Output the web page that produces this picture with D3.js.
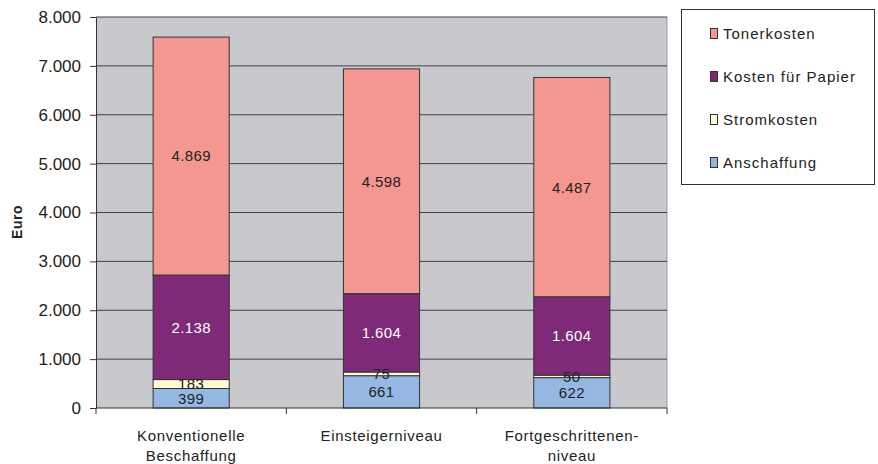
<!DOCTYPE html>
<html><head><meta charset="utf-8">
<script src="https://cdn.jsdelivr.net/npm/d3@7"></script>
<style>body{margin:0;background:#fff;} svg{display:block;font-family:"Liberation Sans",Arial,sans-serif;}</style>
</head><body>
<svg id="c" width="878" height="464"></svg>
<script>
const categories = [["Konventionelle","Beschaffung"],["Einsteigerniveau"],["Fortgeschrittenen-","niveau"]];
const seriesNames = ["Anschaffung","Stromkosten","Kosten für Papier","Tonerkosten"];
const anschaffung = [399, 661, 622];
const stromkosten = [183, 75, 50];
const papier = [2138, 1604, 1604];
const toner = [4869, 4598, 4487];
const yTicks = [0,1000,2000,3000,4000,5000,6000,7000,8000];
const colors = ["#95b8e2","#fffbd2","#7e2a78","#f49790"];
const labelColors = ["#222","#222","#fff","#222"];

const svg = d3.select("#c");
const L=96, R=667, T=17, B=408;
const x = d3.scaleBand().domain(d3.range(3)).range([L,R]).paddingInner(0.6).paddingOuter(0.3);
const y = d3.scaleLinear().domain([0,8000]).range([B,T]);
const fmt = v => d3.format(",")(v).replace(/,/g,".");

svg.append("rect").attr("x",L).attr("y",T).attr("width",R-L).attr("height",B-T).attr("fill","#c8c9cd");
svg.append("line").attr("x1",R).attr("x2",R).attr("y1",T).attr("y2",B).attr("stroke","#9a9a9a");
svg.append("g").selectAll("line").data(yTicks.slice(1)).join("line")
  .attr("x1",L).attr("x2",R).attr("y1",d=>y(d)).attr("y2",d=>y(d)).attr("stroke","#404040").attr("stroke-width",1);

const data = [anschaffung, stromkosten, papier, toner];
const rows = d3.range(3).map(i=>{const o={i}; seriesNames.forEach((s,k)=>o[s]=data[k][i]); return o;});
const stack = d3.stack().keys(seriesNames)(rows);
const g = svg.append("g");
stack.forEach((layer,k)=>{
  g.selectAll(null).data(layer).join("rect")
    .attr("x",(d,i)=>x(i)).attr("width",x.bandwidth())
    .attr("y",d=>y(d[1])).attr("height",d=>y(d[0])-y(d[1]))
    .attr("fill",colors[k]).attr("stroke","#333").attr("stroke-width",1);
});
stack.forEach((layer,k)=>{
  g.selectAll(null).data(layer).join("text")
    .attr("x",(d,i)=>x(i)+x.bandwidth()/2).attr("y",d=>y((d[0]+d[1])/2))
    .attr("dy","0.36em").attr("text-anchor","middle").attr("font-size",15).attr("letter-spacing","0.4px")
    .attr("fill",labelColors[k]).text(d=>fmt(d[1]-d[0]));
});

const ya = svg.append("g").attr("transform",`translate(${L},0)`)
  .call(d3.axisLeft(y).tickValues(yTicks).tickFormat(fmt).tickSize(6).tickSizeOuter(0));
ya.select(".domain").attr("stroke","#333");
ya.selectAll(".tick line").attr("stroke","#333");
ya.selectAll("text").attr("font-size",17).attr("fill","#222").attr("font-family","Liberation Sans, Arial, sans-serif").attr("x",-15);
svg.append("line").attr("x1",L).attr("x2",R).attr("y1",B).attr("y2",B).attr("stroke","#333");
const bounds = [L, (L+R)/2 - (R-L)/6, (L+R)/2 + (R-L)/6, R];
svg.append("g").selectAll("line").data(bounds).join("line")
  .attr("x1",d=>d).attr("x2",d=>d).attr("y1",B).attr("y2",B+6).attr("stroke","#333");
categories.forEach((c,i)=>{
  const t = svg.append("text").attr("x",x(i)+x.bandwidth()/2).attr("y",441)
    .attr("text-anchor","middle").attr("font-size",15).attr("fill","#222").attr("letter-spacing","0.7px");
  c.forEach((line,j)=>t.append("tspan").attr("x",x(i)+x.bandwidth()/2).attr("dy",j?20:0).text(line));
});
svg.append("text").attr("transform","translate(22,222) rotate(-90)").attr("text-anchor","middle")
  .attr("font-size",14).attr("font-weight","bold").attr("fill","#222").attr("letter-spacing","0.5px").text("Euro");

const lg = svg.append("g");
lg.append("rect").attr("x",681.5).attr("y",9.5).attr("width",193).attr("height",175).attr("fill","#fff").attr("stroke","#333");
const legOrder = [3,2,1,0];
legOrder.forEach((k,j)=>{
  const yy = 34 + j*43;
  lg.append("rect").attr("x",710.5).attr("y",yy-5.5).attr("width",7).attr("height",10).attr("fill",colors[k]).attr("stroke","#333");
  lg.append("text").attr("x",723).attr("y",yy).attr("dy","0.36em").attr("font-size",15).attr("letter-spacing","1px").attr("fill","#222").text(seriesNames[k]);
});
</script>
</body></html>
